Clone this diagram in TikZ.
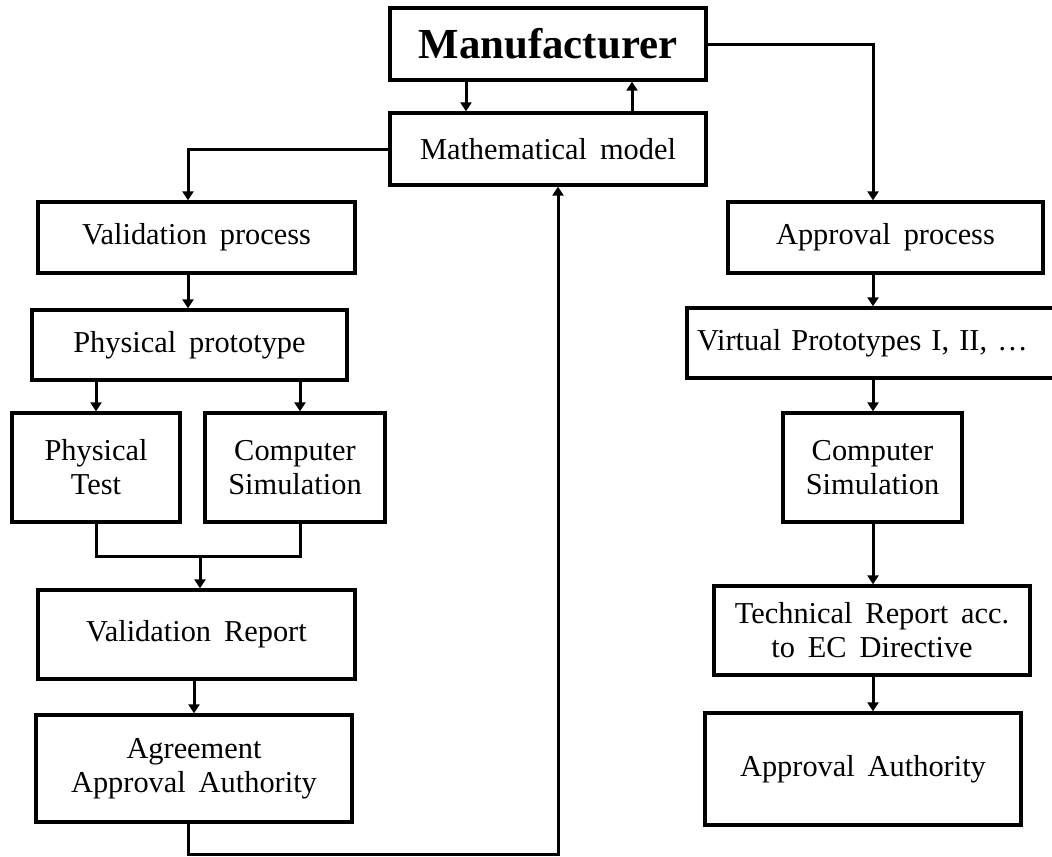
\documentclass[tikz,border=0pt]{standalone}
\usepackage{fontspec}
\setmainfont{Liberation Serif}[WordSpace=1.7]
\usetikzlibrary{arrows.meta}
\begin{document}
\begin{tikzpicture}[x=1bp,y=-1bp,
  box/.style={draw, line width=3.3bp, inner sep=0pt, align=center,
    font=\fontsize{30.5}{34}\selectfont},
  link/.style={line width=3bp},
  arr/.style={line width=3bp, -{Triangle[length=9bp,width=11bp]}}]
\useasboundingbox (0,0) rectangle (1052,857);
% nodes
\node[box, minimum width=316bp, minimum height=72bp, font=\fontsize{43}{46}\bfseries\selectfont] (manu) at (548,44) {Manufacturer};
\node[box, minimum width=316bp, minimum height=72bp] (math) at (548,149) {Mathematical model};
\node[box, minimum width=317bp, minimum height=71bp] (valp) at (196.5,237.5) {Validation process};
\node[box, minimum width=315bp, minimum height=70bp] (phys) at (189.5,345) {Physical prototype};
\node[box, minimum width=168bp, minimum height=109bp] (ptest) at (96,467.5) {Physical\\Test};
\node[box, minimum width=180bp, minimum height=109bp] (csimL) at (295,467.5) {Computer\\Simulation};
\node[box, minimum width=317bp, minimum height=89bp] (vrep) at (196.5,634.5) {Validation Report};
\node[box, minimum width=316bp, minimum height=107bp] (agree) at (194,768.5) {Agreement\\Approval Authority};
\node[box, minimum width=315bp, minimum height=71bp] (appp) at (885.5,237.5) {Approval process};
\node[box, minimum width=373bp, minimum height=70bp, text width=373bp, align=left] (virt) at (873.5,343) {\hspace{10bp}Virtual Prototypes I, II, \ldots};
\node[box, minimum width=179bp, minimum height=109bp] (csimR) at (872.5,467.5) {Computer\\Simulation};
\node[box, minimum width=316bp, minimum height=89bp] (tech) at (872,630.5) {Technical Report acc.\\to EC Directive};
\node[box, minimum width=316bp, minimum height=112bp] (appa) at (863,769) {Approval Authority};
% helper coordinates
\coordinate (lx) at (188,0);
\coordinate (ptx) at (96,0);
\coordinate (csx) at (300,0);
\coordinate (vrx) at (194,0);
\coordinate (rx) at (873,0);
\coordinate (mrg) at (200,556);
\coordinate (lb) at (188,854);
\coordinate (rb) at (558,854);
% top connectors
\draw[arr] ([xshift=-82bp]manu.south) -- ([xshift=-82bp]math.north);
\draw[arr] ([xshift=84bp]math.north) -- ([xshift=84bp]manu.south);
\draw[arr] (manu.east) -| (appp.north -| rx);
\draw[arr] (math.west) -| (valp.north -| lx);
% left column
\draw[arr] (valp.south -| lx) -- (phys.north -| lx);
\draw[arr] (phys.south -| ptx) -- (ptest.north -| ptx);
\draw[arr] (phys.south -| csx) -- (csimL.north -| csx);
\draw[link] (ptest.south -| ptx) |- (mrg) -| (csimL.south -| csx);
\draw[arr] (mrg) -- (vrep.north -| mrg);
\draw[arr] (vrep.south -| vrx) -- (agree.north -| vrx);
\draw[arr] (agree.south -| lb) -- (lb) -- (rb) -- (math.south -| rb);
% right column
\draw[arr] (appp.south -| rx) -- (virt.north -| rx);
\draw[arr] (virt.south -| rx) -- (csimR.north -| rx);
\draw[arr] (csimR.south -| rx) -- (tech.north -| rx);
\draw[arr] (tech.south -| rx) -- (appa.north -| rx);
\end{tikzpicture}
\end{document}
